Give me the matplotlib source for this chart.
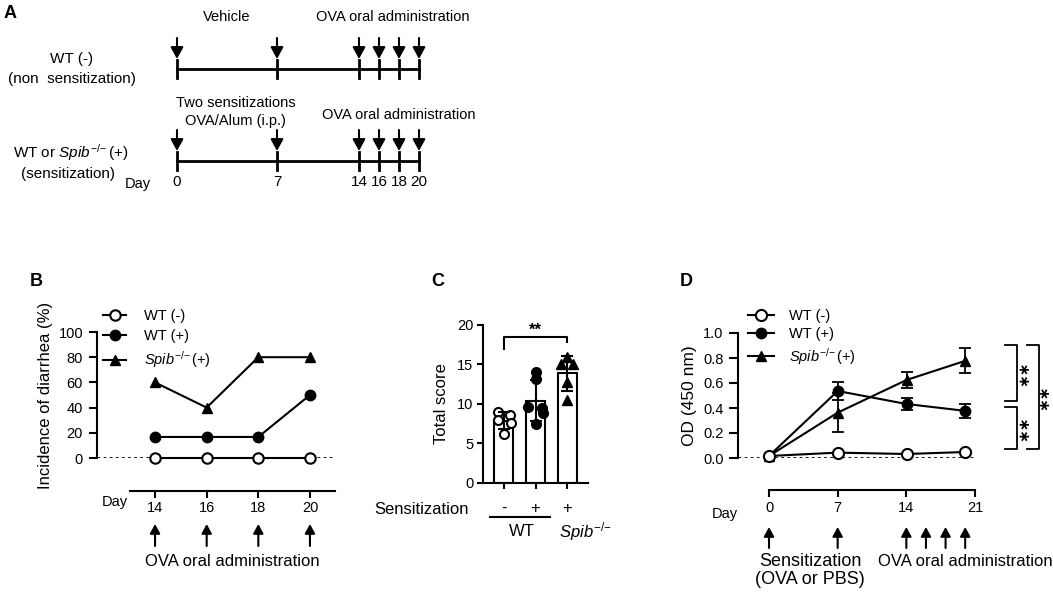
import numpy as np
import matplotlib
matplotlib.use("Agg")
import matplotlib.pyplot as plt
from matplotlib import transforms

plt.rcParams['font.family'] = ['Liberation Sans', 'DejaVu Sans']
plt.rcParams['mathtext.fontset'] = 'custom'
plt.rcParams['mathtext.rm'] = 'Liberation Sans'
plt.rcParams['mathtext.it'] = 'Liberation Sans:italic'
plt.rcParams['axes.linewidth'] = 1.5

# ---------------- data ----------------
a_days = [0, 7, 14, 16, 18, 20]

b_days = [14, 16, 18, 20]
b_wt_neg = [0, 0, 0, 0]
b_wt_pos = [16.7, 16.7, 16.7, 50]
b_spib = [60, 40, 80, 80]

c_groups = ['-', '+', '+']
c_wt_neg = [9.0, 8.6, 8.0, 7.6, 6.2]
c_wt_pos = [14.0, 13.1, 9.6, 9.5, 8.8, 7.5]
c_spib = [16.0, 15.0, 15.0, 12.8, 10.5]

d_days = [0, 7, 14, 20]
d_wt_neg = [0.016, 0.043, 0.032, 0.048]
d_wt_pos = [0.016, 0.536, 0.432, 0.377]
d_wt_pos_err = [0.0, 0.075, 0.047, 0.053]
d_spib = [0.016, 0.363, 0.624, 0.778]
d_spib_err = [0.0, 0.155, 0.067, 0.1]
d_admin_days = [0, 7, 14, 16, 18, 20]

SPIB = r'$\mathit{Spib}^{\mathit{{-}/{-}}}$'
SPIB_P = r'$\mathit{Spib}^{\mathit{{-}/{-}}}\,$(+)'
labels3 = ['WT (-)', 'WT (+)', SPIB_P]

W, H = 1053, 592
fig = plt.figure(figsize=(W / 100, H / 100), dpi=100)


def fx(px):
    return px / W


def fy(py):
    return 1 - py / H


def ax_px(l, t, r, b):
    return fig.add_axes([l / W, 1 - b / H, (r - l) / W, (b - t) / H])


def ftext(px, py, s, **kw):
    kw.setdefault('ha', 'center')
    kw.setdefault('va', 'center')
    fig.text(fx(px), fy(py), s, **kw)


LW = 1.5
DOT = (0, (1, 1.2))
up_arrow = dict(arrowstyle='-|>,head_length=0.55,head_width=0.3', lw=LW,
                color='k', shrinkA=0, shrinkB=0, mutation_scale=10)
down_arrow = dict(arrowstyle='-|>,head_length=0.7,head_width=0.38', lw=LW,
                  color='k', shrinkA=0, shrinkB=0, mutation_scale=10)

# ---------------- Panel A ----------------
fwd = lambda x: np.interp(x, [0, 7, 14, 20], [0, 100, 182, 242])
inv = lambda y: np.interp(y, [0, 100, 182, 242], [0, 7, 14, 20])
ax_a = ax_px(177, 0, 419, 200)
ax_a.set_xscale('function', functions=(fwd, inv))
ax_a.set_xlim(0, 20)
ax_a.set_ylim(200, 0)
ax_a.axis('off')
for y0 in (69, 161):
    ax_a.plot([a_days[0], a_days[-1]], [y0, y0], color='k', lw=2, clip_on=False)
    for d in a_days:
        ax_a.plot([d, d], [y0 - 9, y0 + 9], color='k', lw=2, clip_on=False)
        ax_a.annotate('', xy=(d, y0 - 10), xytext=(d, y0 - 31),
                      arrowprops=down_arrow, annotation_clip=False)
for d in a_days:
    ax_a.text(d, 182, str(d), ha='center', va='center', fontsize=11)

ftext(10, 13, 'A', fontsize=13, fontweight='bold')
ftext(227, 17, 'Vehicle', fontsize=10.5)
ftext(393, 17, 'OVA oral administration', fontsize=10.5)
ftext(72, 59, 'WT (-)', fontsize=11)
ftext(72, 79, '(non  sensitization)', fontsize=11)
ftext(236, 103, 'Two sensitizations', fontsize=10.5)
ftext(235, 121, 'OVA/Alum (i.p.)', fontsize=10.5)
ftext(399, 115, 'OVA oral administration', fontsize=10.5)
ftext(71, 153, 'WT or ' + SPIB_P, fontsize=11)
ftext(68, 174, '(sensitization)', fontsize=11)
ftext(138, 184, 'Day', fontsize=10.5)

# ---------------- Panel B ----------------
ax_b = ax_px(97, 332, 335, 458)
ax_b.set_xlim(11.755, 20.97)
ax_b.set_ylim(0, 100)
for s in ('top', 'right', 'bottom'):
    ax_b.spines[s].set_visible(False)
ax_b.set_xticks([])
ax_b.set_yticks([0, 20, 40, 60, 80, 100])
ax_b.tick_params(axis='y', length=6, width=LW, labelsize=10.5, pad=4)
ax_b.axhline(0, color='k', lw=2, ls=DOT, zorder=1)
lb1, = ax_b.plot(b_days, b_wt_neg, '-o', color='k', mfc='white', mec='k',
                 ms=7.5, mew=1.5, lw=LW, clip_on=False, zorder=3)
lb2, = ax_b.plot(b_days, b_wt_pos, '-o', color='k', ms=7.5, lw=LW,
                 clip_on=False, zorder=3)
lb3, = ax_b.plot(b_days, b_spib, '-^', color='k', ms=7, lw=LW,
                 clip_on=False, zorder=3)
ax_b.set_ylabel('Incidence of diarrhea (%)', fontsize=12)
ax_b.yaxis.set_label_coords((53 - 97) / 238, 0.5)
ax_b.legend([lb1, lb2, lb3], labels3, loc='upper left',
            bbox_to_anchor=(fx(103), fy(309)), bbox_transform=fig.transFigure,
            frameon=False, fontsize=10.5, handlelength=1.6, handletextpad=1.2,
            labelspacing=0.42, borderpad=0, borderaxespad=0)

ax_bl = ax_px(130, 480, 335, 491)
ax_bl.set_xlim(13.03, 20.97)
for s in ('top', 'right', 'left'):
    ax_bl.spines[s].set_visible(False)
ax_bl.set_yticks([])
ax_bl.set_xticks(b_days)
ax_bl.tick_params(axis='x', length=5, width=LW, labelsize=10.5, pad=2)
for d in b_days:
    ax_bl.annotate('', xy=(d, fy(524)), xytext=(d, fy(546)),
                   xycoords=('data', 'figure fraction'),
                   textcoords=('data', 'figure fraction'),
                   arrowprops=up_arrow, annotation_clip=False)
ftext(36, 281, 'B', fontsize=13, fontweight='bold')
ftext(115, 502, 'Day', fontsize=10.5)
ftext(232, 561, 'OVA oral administration', fontsize=12)

# ---------------- Panel C ----------------
ax_c = ax_px(483, 325, 588, 482.7)
ax_c.set_xlim(-0.66, 2.66)
ax_c.set_ylim(0, 20)
for s in ('top', 'right'):
    ax_c.spines[s].set_visible(False)
c_data = [c_wt_neg, c_wt_pos, c_spib]
c_x = np.arange(len(c_data))
c_mean = [np.mean(v) for v in c_data]
c_sd = [np.std(v, ddof=1) for v in c_data]
ax_c.bar(c_x, c_mean, width=0.6, color='white', edgecolor='k', lw=LW, zorder=1)
jit = [[-0.17, 0.2, -0.2, 0.23, 0.0],
       [0.0, 0.0, -0.24, 0.22, 0.24, 0.0],
       [0.0, -0.2, 0.2, 0.0, 0.0]]
mk = [dict(marker='o', mfc='white', mec='k', ms=6.5, mew=1.5),
      dict(marker='o', mfc='k', mec='k', ms=7),
      dict(marker='^', mfc='k', mec='k', ms=7.5)]
for i, v in enumerate(c_data):
    ax_c.plot(c_x[i] + np.array(jit[i]), v, ls='none', clip_on=False,
              zorder=3, **mk[i])
ax_c.errorbar(c_x, c_mean, yerr=c_sd, fmt='none', ecolor='k', elinewidth=LW,
              capsize=4, capthick=LW, zorder=4)
ax_c.set_xticks(c_x)
ax_c.set_xticklabels([])
ax_c.set_yticks([0, 5, 10, 15, 20])
ax_c.tick_params(axis='y', length=4, width=LW, labelsize=10.5, pad=3)
ax_c.tick_params(axis='x', length=4, width=LW)
ax_c.set_ylabel('Total score', fontsize=12)
ax_c.yaxis.set_label_coords((449 - 483) / 105, 0.5)
ax_c.plot([0, 0, 2, 2], [17.0, 18.5, 18.5, 17.8], color='k', lw=LW,
          clip_on=False)
ax_c.text(1, 19.3, '**', ha='center', va='center', fontsize=12,
          fontweight='bold')
tc = transforms.blended_transform_factory(ax_c.transData, fig.transFigure)
for i, g in enumerate(c_groups):
    ax_c.text(c_x[i], fy(508), g, transform=tc, ha='center', va='center',
              fontsize=12)
ax_c.plot([-0.44, 1.45], [fy(517), fy(517)], transform=tc, color='k',
          lw=LW, clip_on=False)
ftext(522, 532, 'WT', fontsize=12)
ftext(559, 532, SPIB, fontsize=12, ha='left')
ftext(422, 509, 'Sensitization', fontsize=12)
ftext(438, 281, 'C', fontsize=13, fontweight='bold')

# ---------------- Panel D ----------------
ax_d = ax_px(738, 333, 975.3, 458)
ax_d.set_xlim(-3.145, 21)
ax_d.set_ylim(0, 1.0)
for s in ('top', 'right', 'bottom'):
    ax_d.spines[s].set_visible(False)
ax_d.set_xticks([])
ax_d.set_yticks(np.arange(0, 1.01, 0.2))
ax_d.set_yticklabels(['%.1f' % v for v in np.arange(0, 1.01, 0.2)])
ax_d.tick_params(axis='y', length=6.5, width=LW, labelsize=10.5, pad=4)
ax_d.axhline(0, color='k', lw=2, ls=DOT, zorder=1)
ax_d.errorbar(d_days, d_wt_pos, yerr=d_wt_pos_err, fmt='none', ecolor='k',
              elinewidth=1.3, capsize=4, capthick=1.3, zorder=2)
ax_d.errorbar(d_days, d_spib, yerr=d_spib_err, fmt='none', ecolor='k',
              elinewidth=1.3, capsize=4, capthick=1.3, zorder=2)
ld2, = ax_d.plot(d_days, d_wt_pos, '-o', color='k', ms=7.5, lw=LW,
                 clip_on=False, zorder=3)
ld3, = ax_d.plot(d_days, d_spib, '-^', color='k', ms=7, lw=LW,
                 clip_on=False, zorder=3)
ld1, = ax_d.plot(d_days, d_wt_neg, '-o', color='k', mfc='white', mec='k',
                 ms=8, mew=1.5, lw=LW, clip_on=False, zorder=4)
ax_d.set_ylabel('OD (450 nm)', fontsize=12.5)
ax_d.yaxis.set_label_coords((697 - 738) / 237.3, 0.5)
ax_d.legend([ld1, ld2, ld3], labels3, loc='upper left',
            bbox_to_anchor=(fx(748), fy(309)), bbox_transform=fig.transFigure,
            frameon=False, fontsize=10.5, handlelength=1.8, handletextpad=1.0,
            labelspacing=0.3, borderpad=0, borderaxespad=0)
# significance brackets (x in figure pixels, y in data)
td = transforms.blended_transform_factory(fig.transFigure, ax_d.transData)
brackets = [(1005, 1017, 0.904, 0.456, 1024, '\u2217\u2217'),
            (1005, 1017, 0.408, 0.072, 1024, '\u2217\u2217'),
            (1027, 1039, 0.904, 0.072, 1043.5, '\u2217\u2217')]
for x0, x1, ytop, ybot, xs, s in brackets:
    ax_d.plot([fx(x0), fx(x1), fx(x1), fx(x0)], [ytop, ytop, ybot, ybot],
              transform=td, color='k', lw=1.3, clip_on=False)
    ax_d.text(fx(xs), (ytop + ybot) / 2, s, transform=td, rotation=90,
              ha='center', va='center', fontsize=11, fontweight='bold',
              family=['DejaVu Sans'])

ax_dl = ax_px(769, 480, 975, 490)
ax_dl.set_xlim(0, 21)
for s in ('top', 'right', 'left'):
    ax_dl.spines[s].set_visible(False)
ax_dl.set_yticks([])
ax_dl.set_xticks([0, 7, 14, 21])
ax_dl.tick_params(axis='x', length=5, width=LW, labelsize=10.5, pad=3)
for d in d_admin_days:
    ax_dl.annotate('', xy=(d, fy(527)), xytext=(d, fy(548)),
                   xycoords=('data', 'figure fraction'),
                   textcoords=('data', 'figure fraction'),
                   arrowprops=up_arrow, annotation_clip=False)
ftext(725, 514, 'Day', fontsize=10.5)
ftext(810, 561, 'Sensitization', fontsize=13)
ftext(810, 580, '(OVA or PBS)', fontsize=13)
ftext(965, 561, 'OVA oral administration', fontsize=12)
ftext(686, 281, 'D', fontsize=13, fontweight='bold')

fig.savefig('out.png', dpi=100)
